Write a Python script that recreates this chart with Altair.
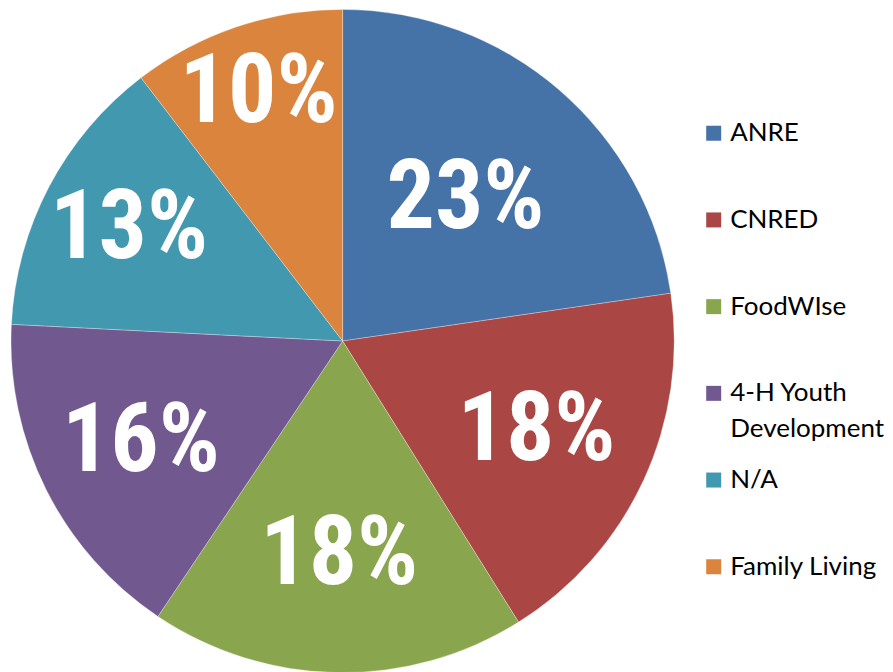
import altair as alt
import pandas as pd

categories = ["ANRE", "CNRED", "FoodWIse", "4-H Youth\nDevelopment", "N/A", "Family Living"]
values = [22.7, 18.4, 18.3, 16.4, 13.8, 10.4]
labels = ["23%", "18%", "18%", "16%", "13%", "10%"]
colors = ["#4572A7", "#AA4643", "#89A54E", "#71588F", "#4198AF", "#DB843D"]

df = pd.DataFrame({
    "cat": categories,
    "value": values,
    "label": labels,
    "idx": list(range(len(categories))),
})

color_scale = alt.Scale(domain=categories, range=colors)

base = alt.Chart(df).encode(
    theta=alt.Theta("value:Q", stack=True),
    order=alt.Order("idx:Q"),
    color=alt.Color("cat:N", scale=color_scale, legend=None),
)

arcs = base.mark_arc(stroke="white", strokeWidth=0.3)

texts = base.mark_text(
    font="Roboto Condensed, Liberation Sans Narrow, Arial Narrow, Roboto",
    fontWeight="bold",
    fontSize=96,
    fill="white",
    align="center",
    baseline="middle",
).encode(
    radius=alt.Radius("value:Q", scale=alt.Scale(type="linear", domain=[10.4, 22.7], range=[262, 188], zero=False)),
    text="label:N",
    color=alt.value("white"),
)

pie = alt.layer(arcs, texts).properties(width=670, height=664)

leg_base = alt.Chart(df).encode(
    y=alt.Y("cat:N", sort=categories, axis=None,
            scale=alt.Scale(type="point", range=[124, 558], padding=0)),
)

leg_sq = leg_base.mark_point(shape="square", filled=True, size=225, opacity=1).encode(
    x=alt.value(16.5),
    color=alt.Color("cat:N", scale=color_scale, legend=None),
)

leg_txt = leg_base.mark_text(
    font="Lato, Open Sans, sans-serif",
    fontSize=26,
    align="left",
    baseline="top",
    dy=-13,
    lineBreak="\n",
    lineHeight=36,
    color="black",
).encode(
    x=alt.value(33),
    text="cat:N",
)

legend = alt.layer(leg_sq, leg_txt).properties(width=180, height=664)

chart = alt.hconcat(pie, legend, spacing=20).properties(
    padding=0,
    background="white",
).configure_view(stroke=None)

chart.save("out.html", embed_options={"renderer": "svg", "actions": False})
